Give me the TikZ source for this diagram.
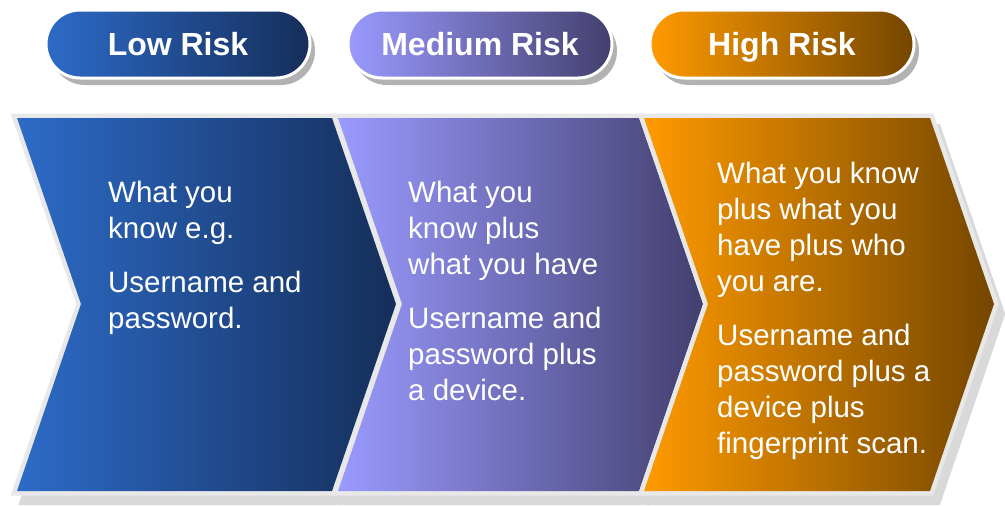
\documentclass[tikz,border=0pt]{standalone}
\usepackage{fontspec}
\setmainfont{Liberation Sans}
\usetikzlibrary{shadows}

\definecolor{lowA}{HTML}{2D6BC8}
\definecolor{lowB}{HTML}{152E5A}
\definecolor{medA}{HTML}{9A9AFF}
\definecolor{medB}{HTML}{433F6E}
\definecolor{highA}{HTML}{FF9A00}
\definecolor{highB}{HTML}{744600}

\begin{document}
\begin{tikzpicture}[x=1pt,y=-1pt,
  pill/.style={rectangle,rounded corners=34pt,minimum width=264pt,minimum height=68pt,
    draw=white,line width=3pt,text=white,font=\fontsize{32}{38}\selectfont\bfseries,
    text height=23pt,text depth=1pt,
    drop shadow={shadow xshift=5pt,shadow yshift=-7pt,fill=black!30,opacity=1}},
  txt/.style={anchor=north west,inner sep=0pt,align=left,text=white,
    font=\fontsize{29.5}{36}\selectfont},
  sombra/.style={fill=black!15,draw=black!15,line width=8pt},
  borda/.style={draw=black!9,line width=9pt}]
\useasboundingbox (0,0) rectangle (1005,506);

% Botoes
\node[pill,left color=lowA,right color=lowB] (low) at (178,44) {Low Risk};
\node[pill,left color=medA,right color=medB] (medium) at (480,44) {Medium Risk};
\node[pill,left color=highA,right color=highB] (high) at (782,44) {High Risk};

% Sombras
\foreach \xa/\xb in {17/332,338/639,644/930}
  \filldraw[sombra,shift={(7,10)}] (\xa,118) -- (\xb,118) -- ({\xb+64},304)
    -- (\xb,491) -- (\xa,491) -- ({\xa+64},304) -- cycle;

% Setas
\foreach \xa/\xb/\ca/\cb in {17/332/lowA/lowB,338/639/medA/medB,644/930/highA/highB}
  \path[preaction={borda},left color=\ca,right color=\cb] (\xa,118) -- (\xb,118)
    -- ({\xb+64},304) -- (\xb,491) -- (\xa,491) -- ({\xa+64},304) -- cycle;

% Textos
\node[txt] (lowtext) at (108,181) {What you\\ know e.g.\\[18pt] Username and\\ password.};
\node[txt] (mediumtext) at (408,181) {What you\\ know plus\\ what you have\\[18pt]
  Username and\\ password plus\\ a device.};
\node[txt] (hightext) at (717,162) {What you know\\ plus what you\\ have plus who\\ you are.\\[18pt]
  Username and\\ password plus a\\ device plus\\ fingerprint scan.};

\end{tikzpicture}
\end{document}
